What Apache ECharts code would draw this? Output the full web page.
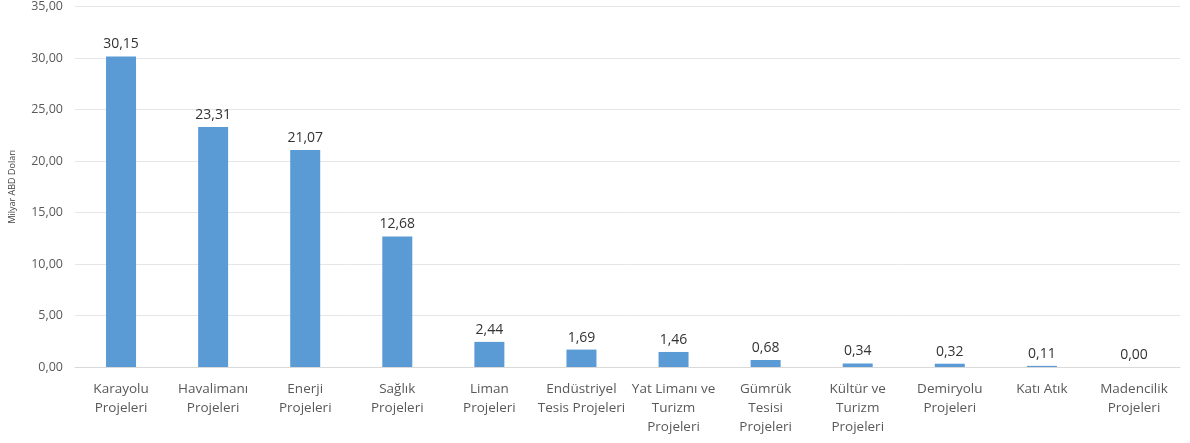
<!DOCTYPE html>
<html><head><meta charset="utf-8">
<script src="https://cdn.jsdelivr.net/npm/echarts@6/dist/echarts.min.js"></script>
<style>html,body{margin:0;padding:0;background:#fff}#c{width:1190px;height:443px}</style>
</head><body><div id="c"></div>
<script>
const categories = ["Karayolu\nProjeleri","Havalimanı\nProjeleri","Enerji\nProjeleri","Sağlık\nProjeleri","Liman\nProjeleri","Endüstriyel\nTesis Projeleri","Yat Limanı ve\nTurizm\nProjeleri","Gümrük\nTesisi\nProjeleri","Kültür ve\nTurizm\nProjeleri","Demiryolu\nProjeleri","Katı Atık","Madencilik\nProjeleri"];
const values = [30.15,23.31,21.07,12.68,2.44,1.69,1.46,0.68,0.34,0.32,0.11,0.00];
const yTicks = [0,5,10,15,20,25,30,35];
const axisName = "Milyar ABD Doları";
const fmt = v => Number(v).toFixed(2).replace('.', ',');
const chart = echarts.init(document.getElementById('c'), null, {renderer:'canvas'});
chart.setOption({
  animation:false,
  textStyle:{fontFamily:'"Open Sans", sans-serif'},
  grid:{left:72,right:10,top:6,bottom:76,containLabel:false},
  xAxis:{type:'category',data:categories,
    axisLine:{lineStyle:{color:'#d9d9d9'}},axisTick:{show:false},
    axisLabel:{interval:0,color:'#595959',fontSize:13.5,lineHeight:19,margin:13,fontFamily:'"Open Sans", sans-serif'}},
  yAxis:{type:'value',min:yTicks[0],max:yTicks[yTicks.length-1],interval:5,
    name:axisName,nameLocation:'middle',nameGap:58,nameRotate:90,
    nameTextStyle:{fontSize:9,color:'#404040'},
    axisLine:{show:false},axisTick:{show:false},
    splitLine:{lineStyle:{color:'#e6e6e6'}},
    axisLabel:{formatter:fmt,color:'#595959',fontSize:12.5,margin:12}},
  series:[{type:'bar',data:values,barWidth:30,
    itemStyle:{color:'#5b9bd5'},
    label:{show:true,position:'top',formatter:p=>fmt(p.value),color:'#333333',fontSize:14,distance:5}}]
});
</script></body></html>
